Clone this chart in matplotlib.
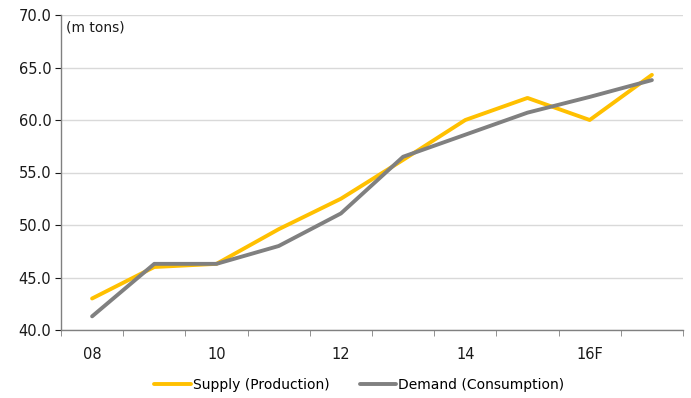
import matplotlib
matplotlib.use("Agg")
import matplotlib.pyplot as plt
import numpy as np

years = ["08", "09", "10", "11", "12", "13", "14", "15", "16F", "17"]
supply = [43.0, 46.0, 46.3, 49.6, 52.5, 56.2, 60.0, 62.1, 60.0, 64.3]
demand = [41.3, 46.3, 46.3, 48.0, 51.1, 56.5, 58.6, 60.7, 62.2, 63.8]

fig = plt.figure(figsize=(6.91, 3.98), dpi=100)
ax = fig.add_axes([61 / 691, 1 - 330 / 398, 622 / 691, 315 / 398])

x = np.arange(len(years))
ax.plot(x, supply, color="#FFC000", linewidth=2.8, label="Supply (Production)",
        solid_capstyle="round", zorder=3)
ax.plot(x, demand, color="#808080", linewidth=2.8, label="Demand (Consumption)",
        solid_capstyle="round", zorder=3)

ax.set_xlim(-0.5, len(years) - 0.5)
ax.set_ylim(40, 70)
ax.set_yticks(np.arange(40, 70.1, 5))
ax.set_yticklabels([f"{v:.1f}" for v in np.arange(40, 70.1, 5)])
ax.set_xticks(x[::2])
ax.set_xticklabels(years[::2])
ax.set_xticks(np.arange(-0.5, len(years), 1), minor=True)
ax.tick_params(axis="x", which="major", length=0, pad=12)
ax.tick_params(axis="x", which="minor", length=4, color="#808080", direction="out")
ax.tick_params(axis="y", length=4, color="#808080", pad=3, direction="out")
ax.tick_params(labelsize=10.5, colors="#1a1a1a")

ax.grid(axis="y", color="#d9d9d9", linewidth=1.0, zorder=0)
for s in ("top", "right"):
    ax.spines[s].set_visible(False)
for s in ("left", "bottom"):
    ax.spines[s].set_color("#808080")
    ax.spines[s].set_linewidth(1.0)

ax.text(0.008, 0.96, "(m tons)", transform=ax.transAxes, fontsize=10,
        va="center", ha="left", color="#1a1a1a")

fig.legend(loc="center", bbox_to_anchor=(0.52, 1 - 385 / 398), ncol=2,
           frameon=False, fontsize=10, handlelength=2.6, handletextpad=0.15,
           columnspacing=2.2)

fig.savefig("out.png", dpi=100)
